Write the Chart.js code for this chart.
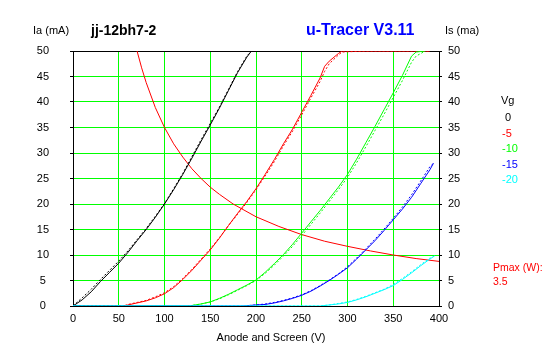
<!DOCTYPE html>
<html>
<head>
<meta charset="utf-8">
<script src="https://cdn.jsdelivr.net/npm/chart.js@4/dist/chart.umd.min.js"></script>
<style>
html,body{margin:0;padding:0;background:#fff;}
canvas{display:block;}
</style>
</head>
<body>
<canvas id="c" width="547" height="357"></canvas>
<script>
// ---- data (anode/screen voltage V, current mA) ----
const xTicks = [0, 50, 100, 150, 200, 250, 300, 350, 400];
const yTicks = [0, 5, 10, 15, 20, 25, 30, 35, 40, 45, 50];
const vgLabels = ["0", "-5", "-10", "-15", "-20"];

const vg0V = [0,10,20,30,40,50,60,70,80,90,100,110,120,130,140,150,160,170,180,190,195];
const vg0I = [0,1.2,2.8,4.8,6.6,8.4,10.5,12.8,15,17.4,20,22.8,25.8,29,32.3,35.5,38.8,42.3,45.8,48.8,50];
const vg0Ib = [0,1.6,3.3,5.2,7,8.8,10.8,13,15.2,17.6,20.1,23,26,29.3,32.6,35.8,39,42.5,46,49,50];

const vg5V = [0,55,60,70,80,90,100,110,120,130,140,150,160,170,180,190,200,210,220,230,240,250,260,270,275,280,290,294,320,350,390];
const vg5I = [0,0,0.2,0.6,1.0,1.6,2.4,3.6,5.2,7,9,11,13.3,15.8,18.2,20.5,23,25.8,28.7,31.8,34.7,38,41.3,44.7,47,48,49.5,50,50,50,50];
const vg5Ib = [0,0,0.3,0.7,1.1,1.8,2.6,3.8,5.4,7.2,9.2,11.2,13.4,15.8,18,20.3,22.8,25.5,28.3,31.4,34.3,37.5,40.8,44,46,47.5,49.2,49.8,50,50,50];

const vg10V = [0,125,130,140,150,160,170,180,190,200,210,220,230,240,250,260,270,280,290,300,310,320,330,340,350,360,370,375,385];
const vg10I = [0,0,0.1,0.4,0.8,1.5,2.3,3.2,4.1,5.1,6.6,8.3,10.1,12.1,14.3,16.5,18.7,21,23.3,25.8,28.8,32,35.2,38.5,41.8,45.2,49,49.8,50];
const vg10Ib = [0,0,0.1,0.4,0.8,1.4,2.2,3.1,4,5,6.4,8,9.8,11.7,13.8,16,18.2,20.5,22.8,25.2,28.1,31.2,34.4,37.6,40.9,44.2,47.8,49,50];

const vg15V = [0,185,200,210,220,230,240,250,260,270,280,290,300,310,320,330,340,350,360,370,380,390,394];
const vg15I = [0,0,0.2,0.3,0.6,1,1.5,2.1,2.9,3.9,5,6.2,7.5,9.2,11,12.8,14.8,16.9,19,21.3,24,26.7,28];
const vg15Ib = [0,0,0.2,0.4,0.7,1.1,1.6,2.2,3,4,5.1,6.3,7.7,9.4,11.2,13.1,15.1,17.2,19.4,21.8,24.5,27.3,28];

const vg20V = [0,270,280,290,300,310,320,330,340,350,360,370,380,390,395];
const vg20I = [0,0,0.2,0.4,0.7,1.2,1.8,2.5,3.2,4,5.2,6.5,7.9,9.2,9.8];
const vg20Ib = [0,0,0.2,0.5,0.8,1.3,1.9,2.6,3.3,4.2,5.4,6.7,8.1,9.4,9.8];

const pmaxV = [70,75,80,90,100,110,120,130,140,150,160,175,200,225,250,275,300,325,350,375,400];
const pmaxI = [50,46.7,43.8,38.9,35,31.8,29.2,26.9,25,23.3,21.9,20,17.5,15.6,14,12.7,11.7,10.8,10,9.3,8.75];
const pmaxW = "3.5";

// ---- build ----
const zip = (xs, ys) => xs.map((x, i) => ({x: x, y: ys[i]}));
const COL = ["#000000", "#ff0000", "#00ff00", "#0000ff", "#00ffff"];
const GRID = "#00ff00";

function line(xs, ys, color, dashed, order) {
  return {
    data: zip(xs, ys), borderColor: color, borderWidth: 1,
    borderDash: dashed ? [2, 2] : [], pointRadius: 0, tension: 0,
    fill: false, order: order, yAxisID: 'y'
  };
}

const datasets = [
  line(vg20V, vg20I, COL[4], false, 1),
  line(vg20V, vg20Ib, COL[4], true, 2),
  line(vg15V, vg15I, COL[3], false, 3),
  line(vg15V, vg15Ib, COL[3], true, 4),
  line(vg10V, vg10I, COL[2], false, 5),
  line(vg10V, vg10Ib, COL[2], true, 6),
  line(vg5V, vg5I, COL[1], false, 7),
  line(vg5V, vg5Ib, COL[1], true, 8),
  line(vg0V, vg0I, COL[0], false, 9),
  line(vg0V, vg0Ib, COL[0], true, 10),
  line(pmaxV, pmaxI, "#ff0000", false, 11)
];

const FAM = "'Liberation Sans', Arial, sans-serif";
const FONT = {family: FAM, size: 11};

const textPlugin = {
  id: 'texts',
  afterDraw(chart) {
    const ctx = chart.ctx;
    ctx.save();
    ctx.textBaseline = 'middle';
    ctx.textAlign = 'left';
    const f = "11px " + FAM;
    ctx.font = f; ctx.fillStyle = '#000';
    ctx.fillText("Ia (mA)", 33, 31);
    ctx.fillText("Is (ma)", 445, 31);
    ctx.font = "bold 14px " + FAM;
    ctx.fillText("jj-12bh7-2", 91, 31);
    ctx.font = "bold 16px " + FAM;
    ctx.fillStyle = '#0000ff';
    ctx.fillText("u-Tracer V3.11", 306, 31);
    ctx.font = f; ctx.fillStyle = '#000';
    ctx.fillText("Vg", 501, 101);
    vgLabels.forEach((t, i) => {
      ctx.fillStyle = COL[i];
      ctx.fillText(t, t === "0" ? 505 : 502, 118 + i * 15.5);
    });
    ctx.fillStyle = '#ff0000';
    ctx.font = "10.5px " + FAM;
    ctx.fillText("Pmax (W):", 493, 268);
    ctx.fillText(pmaxW, 493, 282);
    ctx.font = f;
    ctx.fillStyle = '#000';
    ctx.textAlign = 'center';
    ctx.fillText("Anode and Screen (V)", 271, 338);
    ctx.restore();
  }
};

new Chart(document.getElementById('c'), {
  type: 'line',
  data: {datasets: datasets},
  options: {
    responsive: false, animation: false,
    layout: {padding: {top: 51, left: 0, right: 0, bottom: 0}},
    plugins: {legend: {display: false}, tooltip: {enabled: false}},
    scales: {
      x: {
        type: 'linear', min: 0, max: 400,
        afterBuildTicks: s => { s.ticks = xTicks.map(v => ({value: v})); },
        afterFit: s => { s.height = 51; },
        ticks: {color: '#000', font: FONT, padding: 6, maxRotation: 0, autoSkip: false},
        grid: {color: c => (c.tick && (c.tick.value === 0 || c.tick.value === 400)) ? 'rgba(0,0,0,0)' : GRID,
               lineWidth: 1, drawTicks: false},
        border: {color: '#000', width: 1}
      },
      y: {
        type: 'linear', position: 'left', min: 0, max: 50,
        afterBuildTicks: s => { s.ticks = yTicks.map(v => ({value: v})); },
        afterFit: s => { s.width = 73; },
        ticks: {color: '#000', font: FONT, padding: 21, crossAlign: 'center', autoSkip: false},
        grid: {color: c => (c.tick && c.tick.value === 50) ? '#000' : (c.tick && c.tick.value === 0 ? 'rgba(0,0,0,0)' : GRID),
               tickColor: '#000', tickLength: 3, lineWidth: 1},
        border: {color: '#000', width: 1}
      },
      y2: {
        type: 'linear', position: 'right', min: 0, max: 50,
        afterBuildTicks: s => { s.ticks = yTicks.map(v => ({value: v})); },
        afterFit: s => { s.width = 108; },
        ticks: {color: '#000', font: FONT, padding: 6, autoSkip: false},
        grid: {drawOnChartArea: false, tickColor: '#000', tickLength: 3},
        border: {color: '#000', width: 1}
      }
    }
  },
  plugins: [textPlugin]
});
</script>
</body>
</html>
